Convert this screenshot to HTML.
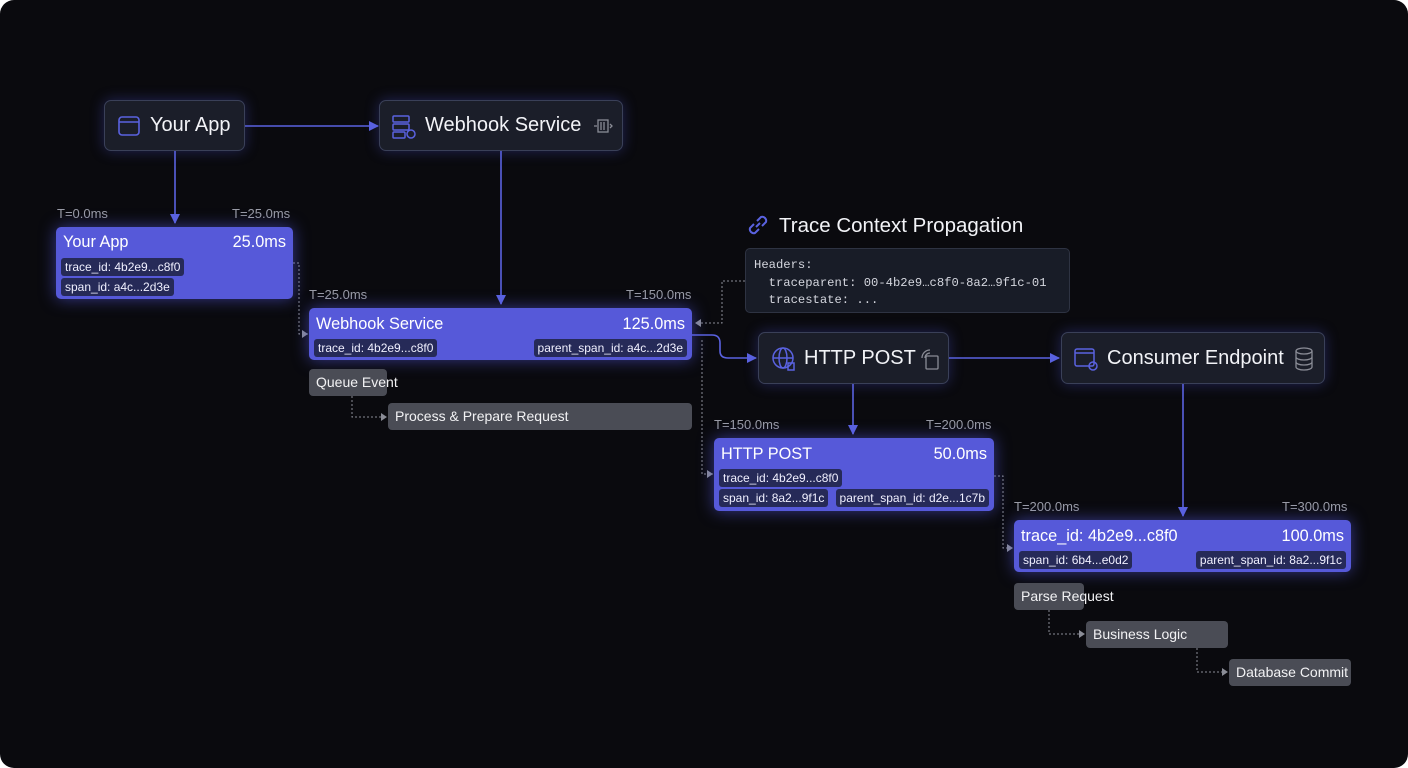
<!DOCTYPE html>
<html><head><meta charset="utf-8">
<style>
*{margin:0;padding:0;box-sizing:border-box}
html,body{width:1408px;height:768px;background:#fff;overflow:hidden}
#c{position:absolute;left:0;top:0;width:1408px;height:768px;background:#0a0a0e;border-radius:14px;overflow:hidden;font-family:"Liberation Sans",sans-serif;color:#fff}
.a{position:absolute}
.node{position:absolute;background:#1b1e29;border:1px solid #3a4058;border-radius:7px;box-shadow:0 0 14px rgba(80,90,220,.35);display:flex;align-items:center;font-size:20px;color:#f2f3f7}
.span{position:absolute;background:#5659d9;border-radius:5px;box-shadow:0 0 16px rgba(90,95,240,.55)}
.st{position:absolute;font-size:16.3px;color:#fff}
.chip{position:absolute;background:#262a58;border-radius:3px;font-size:12px;color:#f0f0ff;padding:2px 4px;line-height:14px;white-space:nowrap}
.t{position:absolute;font-size:13px;color:#9a9ca6}
.gray{position:absolute;background:#4a4c55;border-radius:4px;font-size:14px;color:#f2f2f4;padding:0 7px;line-height:27px;height:27px;white-space:nowrap}
svg{position:absolute;left:0;top:0}
</style></head><body><div id="c">
<svg width="1408" height="768">
<defs>
<marker id="ar" markerWidth="10" markerHeight="10" refX="9" refY="5" orient="auto" markerUnits="userSpaceOnUse"><path d="M0,0 L10,5 L0,10 z" fill="#5a62e0"/></marker>
<marker id="ag" markerWidth="6" markerHeight="8" refX="6" refY="4" orient="auto" markerUnits="userSpaceOnUse"><path d="M0,0 L6,4 L0,8 z" fill="#8a8c96"/></marker>
</defs>
<g stroke="#5a62e0" stroke-width="1.6" fill="none">
<path d="M245,126 H378" marker-end="url(#ar)"/>
<path d="M175,151 V223" marker-end="url(#ar)"/>
<path d="M501,151 V304" marker-end="url(#ar)"/>
<path d="M692,335 H712 Q720,335 720,343 V351 Q720,358 728,358 H756" marker-end="url(#ar)"/>
<path d="M949,358 H1059" marker-end="url(#ar)"/>
<path d="M853,384 V434" marker-end="url(#ar)"/>
<path d="M1183,384 V516" marker-end="url(#ar)"/>
</g>
<g stroke="#8a8c96" stroke-width="1" fill="none" stroke-dasharray="2,2">
<path d="M293,263 H299 V334 H308" marker-end="url(#ag)"/>
<path d="M352,396 V417 H387" marker-end="url(#ag)"/>
<path d="M745,281 H722 V323 H695" marker-end="url(#ag)"/>
<path d="M702,340 V474 H713" marker-end="url(#ag)"/>
<path d="M994,476 H1003 V548 H1013" marker-end="url(#ag)"/>
<path d="M1049,610 V634 H1085" marker-end="url(#ag)"/>
<path d="M1197,648 V672 H1228" marker-end="url(#ag)"/>
</g>
</svg>

<div class="node" style="left:104px;top:100px;width:141px;height:51px">
<svg class="a" style="left:12px;top:13px" width="24" height="24" viewBox="0 0 24 24" fill="none" stroke="#5a62e0" stroke-width="1.6"><rect x="2" y="3" width="20" height="18" rx="3"/><path d="M2 8H22"/></svg>
<span style="margin-left:45px">Your App</span></div>
<div class="node" style="left:379px;top:100px;width:244px;height:51px">
<svg class="a" style="left:11px;top:13px" width="26" height="26" viewBox="0 0 26 26" fill="none" stroke="#5a62e0" stroke-width="1.5"><rect x="2" y="2" width="16" height="6" rx="1"/><rect x="2" y="10" width="16" height="6" rx="1"/><rect x="2" y="18" width="12" height="6" rx="1"/><circle cx="20" cy="20" r="4"/></svg>
<span style="margin-left:45px">Webhook Service</span>
<svg class="a" style="left:213px;top:17px" width="22" height="16" viewBox="0 0 22 16" fill="none" stroke="#8a8c96" stroke-width="1.3"><rect x="5" y="2" width="10" height="12"/><path d="M8 4V12M11 4V12M1 8H4M17 6L19 8L17 10"/></svg>
</div>
<div class="node" style="left:758px;top:332px;width:191px;height:52px">
<svg class="a" style="left:12px;top:13px" width="26" height="26" viewBox="0 0 26 26" fill="none" stroke="#5a62e0" stroke-width="1.5"><circle cx="12" cy="12" r="10"/><ellipse cx="12" cy="12" rx="4" ry="10"/><path d="M2 12H22"/><rect x="17" y="17" width="6" height="7"/></svg>
<span style="margin-left:45px">HTTP POST</span>
<svg class="a" style="left:160px;top:15px" width="22" height="22" viewBox="0 0 22 22" fill="none" stroke="#8a8c96" stroke-width="1.3"><rect x="7" y="8" width="12" height="13" rx="1"/><path d="M3 10A8 8 0 0 1 11 2M6 10A5 5 0 0 1 11 5"/></svg>
</div>
<div class="node" style="left:1061px;top:332px;width:264px;height:52px">
<svg class="a" style="left:11px;top:13px" width="26" height="26" viewBox="0 0 26 26" fill="none" stroke="#5a62e0" stroke-width="1.5"><rect x="2" y="3" width="19" height="17" rx="2"/><path d="M2 7H21"/><circle cx="20" cy="20" r="4"/></svg>
<span style="margin-left:45px">Consumer Endpoint</span>
<svg class="a" style="left:232px;top:14px" width="20" height="24" viewBox="0 0 20 24" fill="none" stroke="#8a8c96" stroke-width="1.3"><ellipse cx="10" cy="4" rx="8" ry="3"/><path d="M2 4V20A8 3 0 0 0 18 20V4M2 10A8 3 0 0 0 18 10M2 15A8 3 0 0 0 18 15"/></svg>
</div>

<div class="t" style="left:57px;top:206px">T=0.0ms</div>
<div class="t" style="left:232px;top:206px">T=25.0ms</div>
<div class="span" style="left:56px;top:227px;width:237px;height:72px">
<div class="st" style="left:7px;top:6px">Your App</div>
<div class="st" style="right:7px;top:6px">25.0ms</div>
<div class="chip" style="left:5px;top:31px">trace_id: 4b2e9...c8f0</div>
<div class="chip" style="left:5px;top:51px">span_id: a4c...2d3e</div>
</div>

<div class="t" style="left:309px;top:287px">T=25.0ms</div>
<div class="t" style="left:626px;top:287px">T=150.0ms</div>
<div class="span" style="left:309px;top:308px;width:383px;height:52px">
<div class="st" style="left:7px;top:7px">Webhook Service</div>
<div class="st" style="right:7px;top:7px">125.0ms</div>
<div class="chip" style="left:5px;top:31px">trace_id: 4b2e9...c8f0</div>
<div class="chip" style="right:5px;top:31px">parent_span_id: a4c...2d3e</div>
</div>
<div class="gray" style="left:309px;top:369px;width:78px">Queue Event</div>
<div class="gray" style="left:388px;top:403px;width:304px">Process &amp; Prepare Request</div>

<svg class="a" style="left:745px;top:212px" width="26" height="26" viewBox="0 0 26 26" fill="none" stroke="#5a62e0" stroke-width="2"><path d="M11 15L15 11M9 12L5 16A4 4 0 0 0 10 21L14 17M17 14L21 10A4 4 0 0 0 16 5L12 9"/></svg>
<div class="a" style="left:779px;top:214px;font-size:20.5px;color:#f2f3f7">Trace Context Propagation</div>
<div class="a" style="left:745px;top:248px;width:325px;height:65px;background:#181c27;border:1px solid #2e3342;border-radius:5px;font-family:'Liberation Mono',monospace;font-size:12.2px;color:#d4d6de;padding:8px 8px;line-height:17.5px;white-space:pre">Headers:
  traceparent: 00-4b2e9…c8f0-8a2…9f1c-01
  tracestate: ...</div>

<div class="t" style="left:714px;top:417px">T=150.0ms</div>
<div class="t" style="left:926px;top:417px">T=200.0ms</div>
<div class="span" style="left:714px;top:438px;width:280px;height:73px">
<div class="st" style="left:7px;top:7px">HTTP POST</div>
<div class="st" style="right:7px;top:7px">50.0ms</div>
<div class="chip" style="left:5px;top:31px">trace_id: 4b2e9...c8f0</div>
<div class="chip" style="left:5px;top:51px">span_id: 8a2...9f1c</div>
<div class="chip" style="right:5px;top:51px">parent_span_id: d2e...1c7b</div>
</div>

<div class="t" style="left:1014px;top:499px">T=200.0ms</div>
<div class="t" style="left:1282px;top:499px">T=300.0ms</div>
<div class="span" style="left:1014px;top:520px;width:337px;height:52px">
<div class="st" style="left:7px;top:7px">trace_id: 4b2e9...c8f0</div>
<div class="st" style="right:7px;top:7px">100.0ms</div>
<div class="chip" style="left:5px;top:31px">span_id: 6b4...e0d2</div>
<div class="chip" style="right:5px;top:31px">parent_span_id: 8a2...9f1c</div>
</div>
<div class="gray" style="left:1014px;top:583px;width:70px;overflow:visible">Parse Request</div>
<div class="gray" style="left:1086px;top:621px;width:142px">Business Logic</div>
<div class="gray" style="left:1229px;top:659px;width:122px">Database Commit</div>
</div></body></html>
